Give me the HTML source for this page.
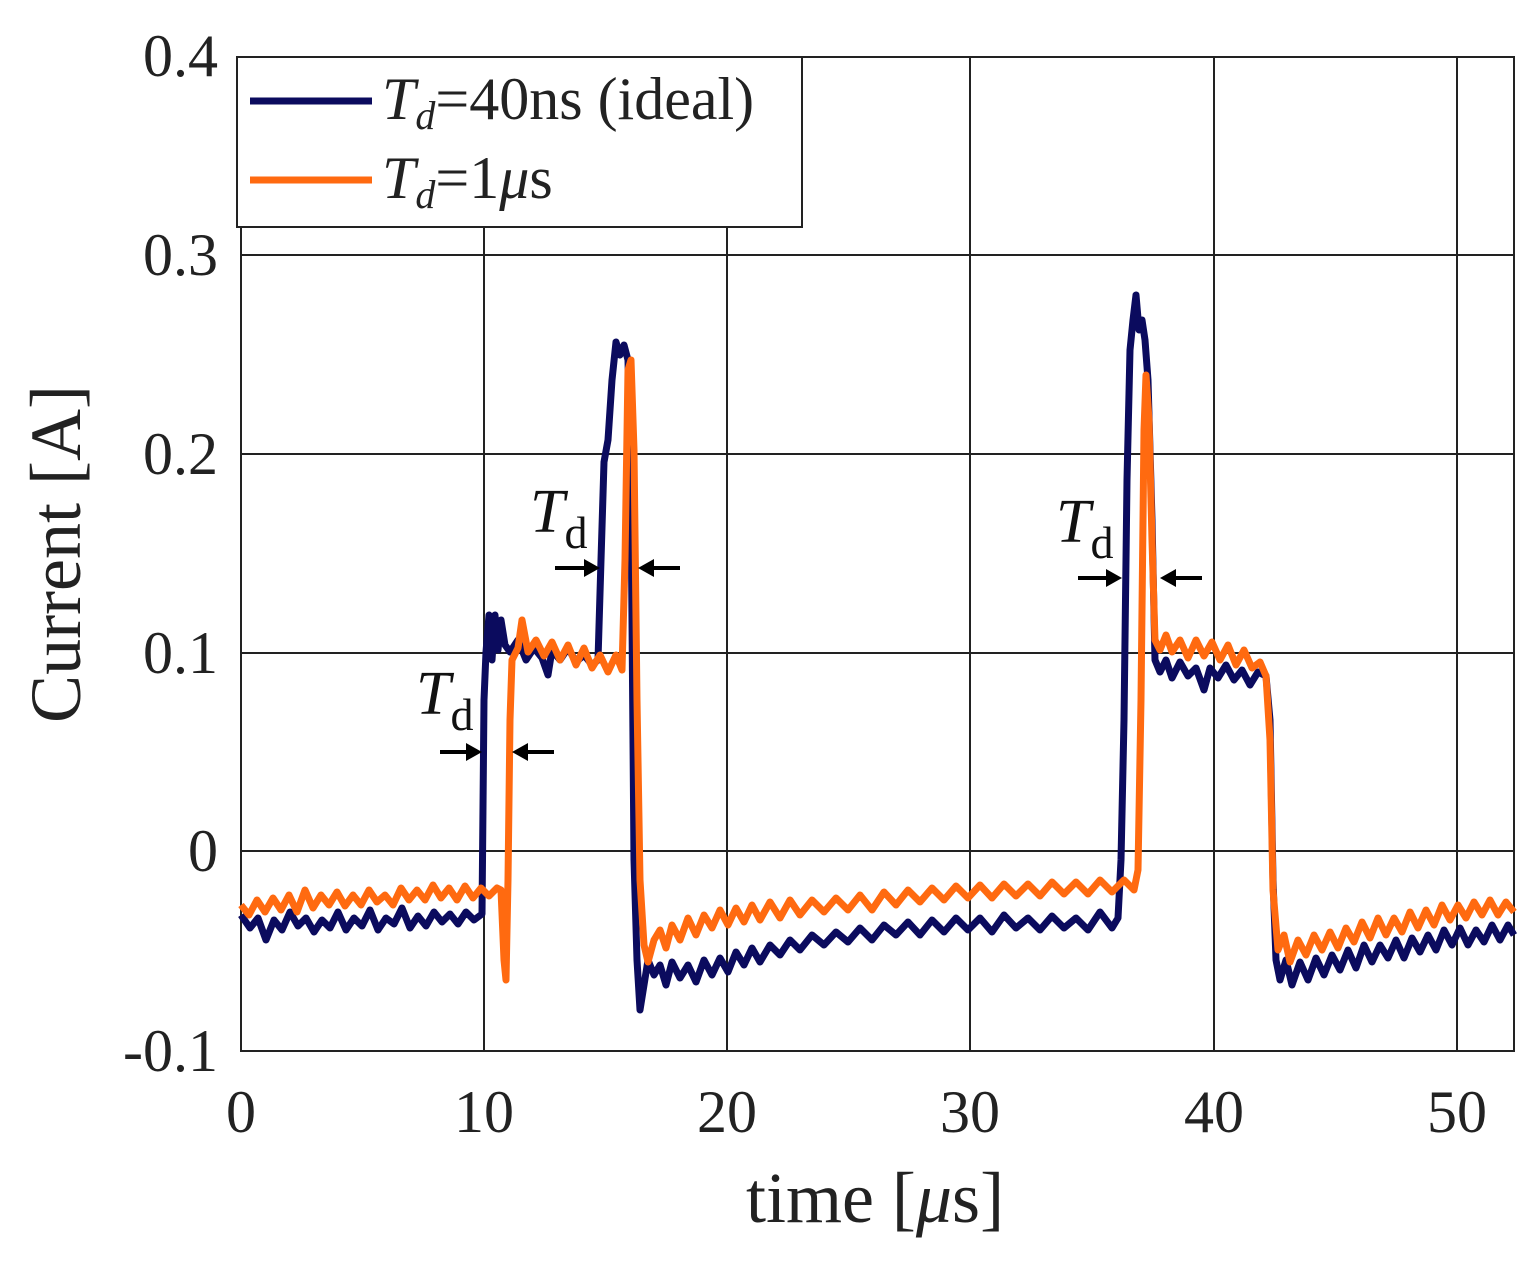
<!DOCTYPE html>
<html><head><meta charset="utf-8"><style>
html,body{margin:0;padding:0;background:#fff;}
svg{display:block;font-family:"Liberation Serif",serif;}
</style></head><body>
<svg width="1540" height="1266" viewBox="0 0 1540 1266" xmlns="http://www.w3.org/2000/svg">
<rect width="1540" height="1266" fill="#fff"/>
<g stroke="#222" stroke-width="2" fill="none">
<line x1="484" y1="57" x2="484" y2="1051"/><line x1="727" y1="57" x2="727" y2="1051"/>
<line x1="970" y1="57" x2="970" y2="1051"/><line x1="1214" y1="57" x2="1214" y2="1051"/>
<line x1="1457" y1="57" x2="1457" y2="1051"/>
<line x1="241" y1="255" x2="1514" y2="255"/><line x1="241" y1="454" x2="1514" y2="454"/>
<line x1="241" y1="653" x2="1514" y2="653"/><line x1="241" y1="851" x2="1514" y2="851"/>
<rect x="241" y="57" width="1273" height="994"/>
</g>
<g fill="none" stroke-width="7" stroke-linejoin="round">
<path stroke="#0b0b5e" d="M241,915 L250,928 L258,918 L266,940 L274,920 L282,930 L290,912 L298,926 L306,918 L314,932 L322,920 L330,928 L338,912 L346,930 L354,918 L362,926 L370,910 L378,930 L386,918 L394,924 L402,908 L410,928 L418,916 L426,926 L434,912 L442,922 L450,914 L458,924 L466,912 L474,920 L482,914 L484,700 L486,652 L489,615 L492,660 L495,615 L498,650 L501,620 L505,645 L510,652 L518,640 L526,660 L534,648 L542,658 L548,675 L552,650 L560,660 L568,648 L576,662 L584,655 L592,665 L598,660 L601,560 L604,462 L608,440 L612,380 L616,342 L620,355 L624,345 L628,360 L631,500 L634,860 L637,960 L640,1010 L644,985 L648,960 L654,975 L660,965 L666,985 L672,962 L680,978 L688,965 L696,982 L704,960 L712,975 L720,958 L728,972 L736,952 L744,965 L752,948 L760,962 L770,945 L780,955 L790,940 L800,950 L812,935 L824,945 L836,932 L848,942 L860,928 L872,940 L884,925 L896,935 L908,922 L920,935 L932,920 L944,932 L956,918 L968,930 L980,918 L992,932 L1004,915 L1016,928 L1028,918 L1040,930 L1052,916 L1064,928 L1076,918 L1088,930 L1100,912 L1112,928 L1118,918 L1121,860 L1124,720 L1127,480 L1130,350 L1133,320 L1136,295 L1139,330 L1142,320 L1145,340 L1148,380 L1152,520 L1155,660 L1160,672 L1166,660 L1172,678 L1180,662 L1188,676 L1196,668 L1204,690 L1210,668 L1218,678 L1226,665 L1234,680 L1242,670 L1250,685 L1258,672 L1266,676 L1270,720 L1273,880 L1276,960 L1280,980 L1286,960 L1292,985 L1300,962 L1308,980 L1316,958 L1324,975 L1332,955 L1340,970 L1348,950 L1356,968 L1364,945 L1372,962 L1380,945 L1388,958 L1396,940 L1404,958 L1412,938 L1420,952 L1428,935 L1436,950 L1444,930 L1452,945 L1460,928 L1468,945 L1476,930 L1484,942 L1492,925 L1500,940 L1508,925 L1514,935"/>
<path stroke="#ff6a10" d="M241,905 L249,915 L257,900 L265,912 L273,898 L281,910 L289,895 L297,912 L305,890 L313,908 L321,895 L329,905 L337,892 L345,906 L353,895 L361,905 L369,890 L377,902 L385,895 L393,905 L401,888 L409,900 L417,890 L425,900 L433,885 L441,898 L449,888 L457,900 L465,886 L473,898 L481,888 L489,896 L497,888 L501,890 L504,960 L506,980 L508,880 L510,720 L512,660 L518,648 L522,620 L528,652 L536,640 L544,656 L552,642 L560,660 L568,645 L576,665 L584,648 L592,668 L600,655 L608,672 L616,655 L622,670 L625,560 L628,370 L631,360 L634,450 L637,700 L640,880 L644,945 L648,962 L654,940 L660,930 L666,948 L672,925 L680,940 L688,918 L696,935 L704,915 L712,928 L720,910 L728,925 L736,908 L744,922 L752,905 L760,920 L770,902 L780,918 L790,900 L800,915 L812,900 L824,912 L836,898 L848,910 L860,895 L872,910 L884,892 L896,905 L908,890 L920,902 L932,888 L944,900 L956,886 L968,898 L980,885 L992,898 L1004,884 L1016,896 L1028,884 L1040,896 L1052,882 L1064,894 L1076,882 L1088,894 L1100,880 L1112,892 L1124,880 L1134,890 L1138,870 L1141,700 L1144,430 L1146,375 L1149,420 L1152,540 L1155,640 L1160,650 L1166,635 L1172,652 L1180,640 L1188,658 L1196,640 L1204,656 L1212,642 L1220,660 L1228,645 L1236,665 L1244,650 L1252,668 L1260,662 L1266,676 L1270,740 L1273,890 L1278,950 L1284,935 L1290,962 L1298,940 L1306,955 L1314,935 L1322,950 L1330,932 L1338,948 L1346,928 L1354,942 L1362,922 L1370,938 L1378,918 L1386,935 L1394,918 L1402,932 L1410,912 L1418,928 L1426,910 L1434,925 L1442,905 L1450,920 L1458,905 L1466,918 L1474,902 L1482,915 L1490,900 L1498,915 L1506,902 L1514,912"/>
</g>
<g font-size="60" fill="#222" text-anchor="end">
<text x="218" y="76">0.4</text><text x="218" y="275">0.3</text><text x="218" y="474">0.2</text>
<text x="218" y="673">0.1</text><text x="218" y="871">0</text><text x="218" y="1071">-0.1</text>
</g>
<g font-size="60" fill="#222" text-anchor="middle">
<text x="241" y="1132">0</text><text x="484" y="1132">10</text><text x="727" y="1132">20</text>
<text x="970" y="1132">30</text><text x="1214" y="1132">40</text><text x="1457" y="1132">50</text>
</g>
<text x="875" y="1222" font-size="72" fill="#222" text-anchor="middle">time [<tspan font-style="italic">μ</tspan>s]</text>
<text transform="translate(80,554) rotate(-90)" font-size="72" fill="#222" text-anchor="middle">Current [A]</text>
<rect x="237" y="57" width="565" height="170" fill="#fff" stroke="#222" stroke-width="2"/>
<line x1="250" y1="101" x2="372" y2="101" stroke="#0b0b5e" stroke-width="7"/>
<line x1="250" y1="180" x2="372" y2="180" stroke="#ff6a10" stroke-width="7"/>
<g font-size="60" fill="#222">
<text x="382" y="119"><tspan font-style="italic">T</tspan><tspan font-style="italic" font-size="40" dy="10">d</tspan><tspan dy="-10">=40ns (ideal)</tspan></text>
<text x="382" y="198"><tspan font-style="italic">T</tspan><tspan font-style="italic" font-size="40" dy="10">d</tspan><tspan dy="-10">=1</tspan><tspan font-style="italic">μ</tspan><tspan>s</tspan></text>
</g>
<g font-size="62" fill="#111">
<text x="416" y="714"><tspan font-style="italic">T</tspan><tspan font-size="46" dy="16">d</tspan></text>
<text x="530" y="532"><tspan font-style="italic">T</tspan><tspan font-size="46" dy="16">d</tspan></text>
<text x="1056" y="542"><tspan font-style="italic">T</tspan><tspan font-size="46" dy="16">d</tspan></text>
</g>
<g stroke="#000" stroke-width="4" fill="#000">
<line x1="440" y1="752" x2="470" y2="752"/><polygon points="482,752 466,743 466,761" stroke="none"/>
<line x1="554" y1="752" x2="524" y2="752"/><polygon points="512,752 528,743 528,761" stroke="none"/>
<line x1="555" y1="568" x2="588" y2="568"/><polygon points="600,568 584,559 584,577" stroke="none"/>
<line x1="680" y1="568" x2="650" y2="568"/><polygon points="638,568 654,559 654,577" stroke="none"/>
<line x1="1078" y1="578" x2="1110" y2="578"/><polygon points="1122,578 1106,569 1106,587" stroke="none"/>
<line x1="1202" y1="578" x2="1172" y2="578"/><polygon points="1160,578 1176,569 1176,587" stroke="none"/>
</g>
</svg>
</body></html>
